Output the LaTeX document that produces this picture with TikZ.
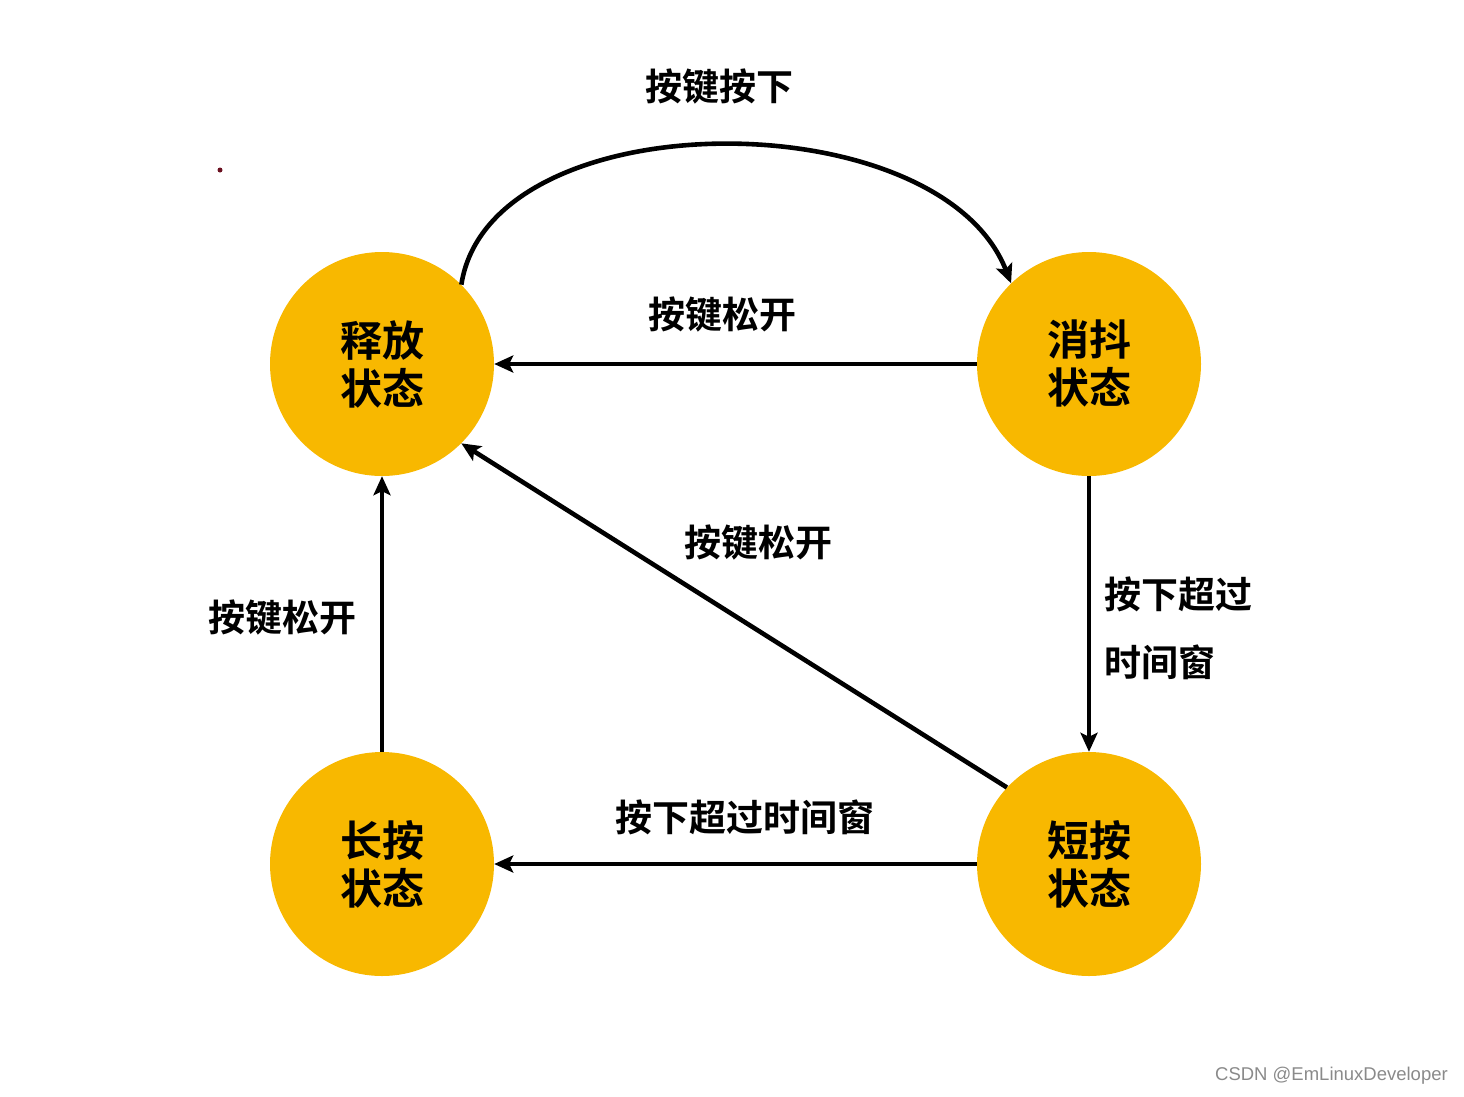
\documentclass[tikz,border=0pt]{standalone}
\usepackage{fontspec}
\newfontfamily\cjk{Noto Sans CJK SC}[BoldFont={Noto Sans CJK SC Bold}]
\newfontfamily\wm{Liberation Sans}
\usetikzlibrary{arrows.meta}
\definecolor{stategold}{HTML}{F8B800}
\definecolor{wmgray}{HTML}{8A8A8A}
\definecolor{dotred}{HTML}{6A1020}
\tikzset{
  statenode/.style={circle, fill=stategold, minimum size=224pt, inner sep=0pt,
    align=center, font=\cjk\bfseries\fontsize{42}{48}\selectfont},
  lbl/.style={inner sep=0pt, font=\cjk\bfseries\fontsize{37}{44}\selectfont},
  conn/.style={line width=4.6pt, -{Stealth[length=19pt,width=17pt,inset=4pt]}}
}
\begin{document}
\begin{tikzpicture}[x=1pt,y=-1pt]
\useasboundingbox (0,0) rectangle (1464,1096);
\node[statenode] (rel) at (382,364) {释放\\状态};
\node[statenode] (deb) at (1089,364) {消抖\\状态};
\node[statenode] (lng) at (382,864) {长按\\状态};
\node[statenode] (sht) at (1089,864) {短按\\状态};

\draw[conn] (rel.45) .. controls (490,99) and (939,99) .. (deb.134);
\draw[conn] (deb.west) -- (rel.east);
\draw[conn] (sht.137) -- (rel.-45);
\draw[conn] (lng.north) -- (rel.south);
\draw[conn] (deb.south) -- (sht.north);
\draw[conn] (sht.west) -- (lng.east);

\node[lbl] (l1) at (719,87) {按键按下};
\node[lbl] (l2) at (722,315) {按键松开};
\node[lbl] (l3) at (758,543) {按键松开};
\node[lbl] (l4) at (282,618) {按键松开};
\node[lbl, anchor=west] (l5) at (1104,594) {按下超过};
\node[lbl, anchor=west] (l6) at (1104,662) {时间窗};
\node[lbl] (l7) at (745,817) {按下超过时间窗};

\fill[dotred] (220,170) circle (2.5pt);
\node[anchor=east, inner sep=0pt, text=wmgray, font=\wm\fontsize{18.5}{22}\selectfont] (wmk) at (1448,1076) {CSDN @EmLinuxDeveloper};
\end{tikzpicture}
\end{document}
